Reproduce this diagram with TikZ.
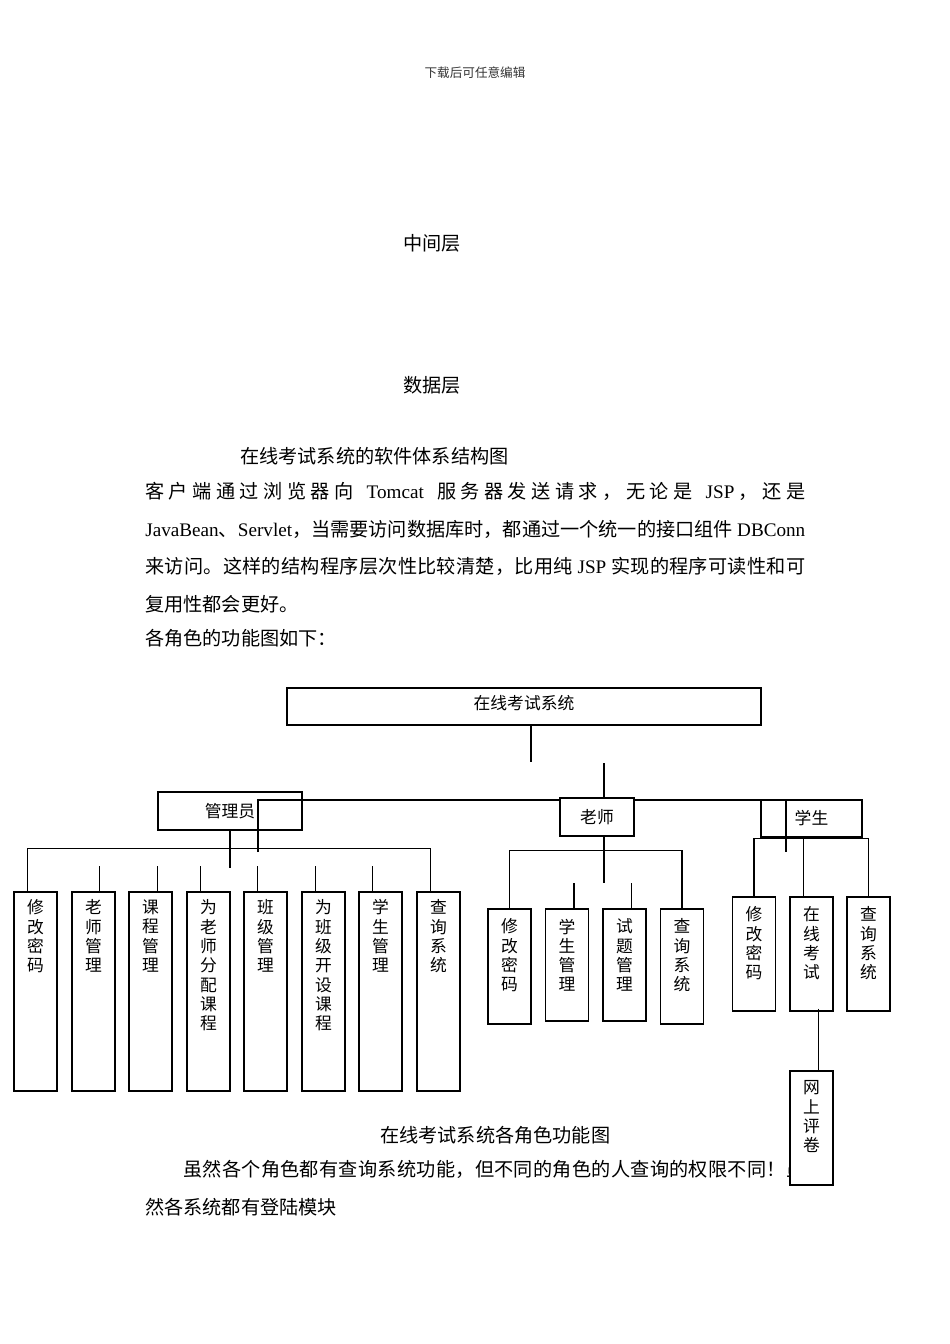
\documentclass[tikz,border=0pt]{standalone}
\usepackage{fontspec}
\setmainfont{Noto Sans CJK SC}
\newfontfamily\lat{Liberation Serif}
\usetikzlibrary{calc}
\newlength\pxu
\setlength\pxu{0.6263pt}
\def\P{*0.6263pt}
\lineskiplimit=-16000pt
\lineskip=0pt
\newcommand\vfont{\fontsize{10.5pt}{12.1pt}\selectfont}
\def\spr#1{\ifx\relax#1\unskip\else#1\hskip0pt plus 1fil\relax\expandafter\spr\fi}
\newcommand\spreadline[2]{\makebox[#1][s]{\spr#2\relax}}
\begin{document}
\begin{tikzpicture}[x=0.6263pt,y=-0.6263pt,
  txt/.style={inner sep=0pt, anchor=west, font=\fontsize{12pt}{14pt}\selectfont},
  boxline/.style={draw=black, line width=0.75pt},
  lab/.style={font=\fontsize{10.5pt}{12pt}\selectfont},
  rolebox/.style={boxline, inner sep=0pt, lab},
  leaf/.style={boxline, fill=white, inner sep=0pt, minimum width=43\P},
  vt/.style={anchor=north, align=center, inner sep=0pt, font=\vfont, yshift=-6.3pt},
  vta/.style={anchor=north, align=center, inner sep=0pt, font=\vfont, yshift=-5pt},
  conn/.style={draw=black, line width=0.75pt}
]
\useasboundingbox (0,0) rectangle (950,1344);

% header and upper text
\node[inner sep=0pt, font=\fontsize{7.9pt}{9pt}\selectfont, text=black!80] (hdr) at (475,73) {下载后可任意编辑};
\node[txt] (mid) at (403,243) {中间层};
\node[txt] (dat) at (403,385) {数据层};
\node[txt] (title1) at (240,456) {在线考试系统的软件体系结构图};
\node[txt] (l1) at (145,491) {\spreadline{660\pxu}{客户端通过浏览器向{\ }{{\lat Tomcat}}{\ }服务器发送请求，无论是{\ }{{\lat JSP}}，还是}};
\node[txt] (l2) at (145,529) {\makebox[660\pxu][s]{{\lat JavaBean}、{\lat Servlet}，当需要访问数据库时，都通过一个统一的接口组件 {\lat DBConn}}};
\node[txt] (l3) at (145,566) {\spreadline{660\pxu}{来访问。这样的结构程序层次性比较清楚，比用纯{\ }{{\lat JSP}}{\ }实现的程序可读性和可}};
\node[txt] (l4) at (145,604) {复用性都会更好。};
\node[txt] (l5) at (145,638) {各角色的功能图如下：};

% lower text
\node[txt] (cap2) at (380,1135) {在线考试系统各角色功能图};
\node[txt] (b1) at (183,1169) {\spreadline{622\pxu}{虽然各个角色都有查询系统功能，但不同的角色的人查询的权限不同！虽}};
\node[txt] (b2) at (145,1207) {然各系统都有登陆模块};

% top and role boxes
\node[rolebox, minimum width=474\P, minimum height=37\P] (root) at (524,706.5) {};
\node[lab, inner sep=0pt] (rootlab) at (524,703.5) {在线考试系统};
\node[rolebox, minimum width=144\P, minimum height=38\P] (admin) at (230,811) {管理员};
\node[rolebox, minimum width=74\P, minimum height=38\P] (teacher) at (597,817) {老师};
\node[rolebox, minimum width=101\P, minimum height=37\P] (student) at (811.5,818.5) {学生};

% admin leaves
\node[leaf, minimum height=199\P, label={[vta]north:{修\\改\\密\\码}}] (a1) at (35.5,991.5) {};
\node[leaf, minimum height=199\P, label={[vta]north:{老\\师\\管\\理}}] (a2) at (93.5,991.5) {};
\node[leaf, minimum height=199\P, label={[vta]north:{课\\程\\管\\理}}] (a3) at (150.5,991.5) {};
\node[leaf, minimum height=199\P, label={[vta]north:{为\\老\\师\\分\\配\\课\\程}}] (a4) at (208.5,991.5) {};
\node[leaf, minimum height=199\P, label={[vta]north:{班\\级\\管\\理}}] (a5) at (265.5,991.5) {};
\node[leaf, minimum height=199\P, label={[vta]north:{为\\班\\级\\开\\设\\课\\程}}] (a6) at (323.5,991.5) {};
\node[leaf, minimum height=199\P, label={[vta]north:{学\\生\\管\\理}}] (a7) at (380.5,991.5) {};
\node[leaf, minimum height=199\P, label={[vta]north:{查\\询\\系\\统}}] (a8) at (438.5,991.5) {};

% teacher leaves
\node[leaf, minimum height=115\P, label={[vt]north:{修\\改\\密\\码}}] (t1) at (509.5,966.5) {};
\node[leaf, minimum height=112\P, label={[vt]north:{学\\生\\管\\理}}] (t2) at (567,965) {};
\node[leaf, minimum height=112\P, label={[vt]north:{试\\题\\管\\理}}] (t3) at (624.5,965) {};
\node[leaf, minimum height=115\P, label={[vt]north:{查\\询\\系\\统}}] (t4) at (682,966.5) {};

% student leaves
\node[leaf, minimum height=114\P, label={[vt]north:{修\\改\\密\\码}}] (s1) at (754,954) {};
\node[leaf, minimum height=114\P, label={[vt]north:{在\\线\\考\\试}}] (s2) at (811.5,954) {};
\node[leaf, minimum height=114\P, label={[vt]north:{查\\询\\系\\统}}] (s3) at (868.5,954) {};
\node[leaf, minimum height=114\P, label={[vt]north:{网\\上\\评\\卷}}] (rv) at (811.5,1128) {};

% connectors: top
\coordinate (r1) at (531,762);
\draw[conn] (root.south -| r1) -- (r1);
\coordinate (t0) at (604,763);
\draw[conn] (t0) -- (t0 |- teacher.north);
\coordinate (hl) at (258,852);
\coordinate (hr) at (786,852);
\coordinate (hy) at (0,800);
\draw[conn] (hl) |- (teacher.west |- hy);
\draw[conn] (teacher.east |- hy) -| (hr);

% admin bracket
\draw[conn] (admin.south) -- ++(0,37);
\draw[conn] ($(a1.north west)+(14,0)$) |- ($(a8.north west)+(14,-43)$) -- ($(a8.north west)+(14,0)$);
\draw[conn] ($(a2.north west)+(28,0)$) -- ++(0,-25);
\draw[conn] ($(a3.north west)+(29,0)$) -- ++(0,-25);
\draw[conn] ($(a4.north west)+(14,0)$) -- ++(0,-25);
\draw[conn] ($(a5.north west)+(14,0)$) -- ++(0,-25);
\draw[conn] ($(a6.north west)+(14,0)$) -- ++(0,-25);
\draw[conn] ($(a7.north west)+(14,0)$) -- ++(0,-25);

% teacher bracket
\coordinate (tb) at (604,883);
\draw[conn] (teacher.south -| tb) -- (tb);
\draw[conn] (t1.north) |- ($(t4.north)+(0,-58)$) -- (t4.north);
\draw[conn] ($(t2.north west)+(29,0)$) -- ++(0,-25);
\draw[conn] ($(t3.north west)+(29,0)$) -- ++(0,-25);

% student bracket
\draw[conn] (s1.north) |- ($(s3.north)+(0,-58)$) -- (s3.north);
\draw[conn] ($(s2.north west)+(14,0)$) coordinate (sx) -- (sx |- student.south);
\draw[conn] ($(s2.south west)+(29,-3)$) -- ($(rv.north west)+(29,0)$);
\end{tikzpicture}
\end{document}
